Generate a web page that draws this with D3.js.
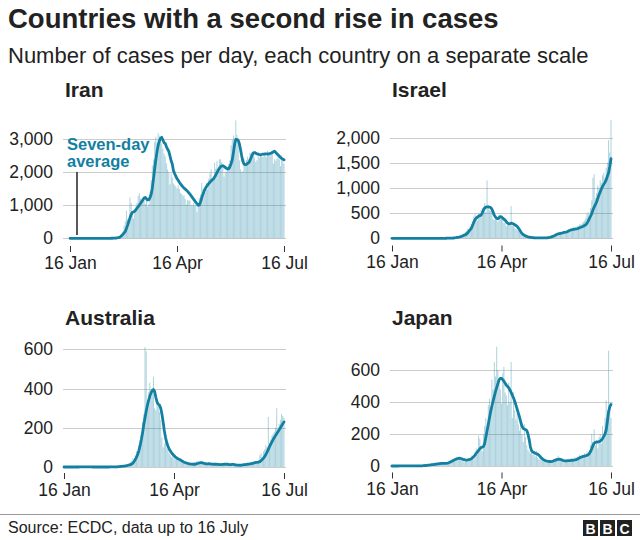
<!DOCTYPE html>
<html><head><meta charset="utf-8">
<script src="https://cdn.jsdelivr.net/npm/d3@7"></script>
<style>
body{margin:0;background:#fff;}
svg text{font-family:"Liberation Sans",Arial,Helvetica,sans-serif;}
</style></head><body>
<svg id="chart" width="640" height="540"></svg>
<script>
// ---------- DATA ----------
const START_DATE = "2020-01-16";
const TICK_DATES = ["2020-01-16", "2020-04-16", "2020-07-16"];
const COUNTRIES = ["Iran", "Israel", "Australia", "Japan"];

const IRAN_TICKS = [0, 1000, 2000, 3000];
const ISRAEL_TICKS = [0, 500, 1000, 1500, 2000];
const AUSTRALIA_TICKS = [0, 200, 400, 600];
const JAPAN_TICKS = [0, 200, 400, 600];

// daily cases, one value per day from 16 Jan to 16 Jul
const IRAN_DAILY = [
0,0,0,0,0,0,0,0,0,0,
0,0,0,0,0,0,0,0,0,0,
0,0,0,0,0,0,0,0,0,0,
0,0,0,0,2,3,13,5,10,15,
18,34,45,106,143,205,385,523,835,586,
591,1234,1076,743,595,881,958,1075,1289,1365,
1209,1053,1178,1192,1046,1237,966,1028,1411,1762,
2206,2389,2926,3076,2901,3186,3110,2988,2875,2715,
2560,2483,2274,2089,1997,1634,1972,1837,1657,1617,
1574,1512,1606,1499,1374,1343,1294,1297,1194,1030,
1168,1134,1153,1006,991,1073,993,1006,802,976,
1223,1323,1680,1485,1529,1383,1683,1481,1808,1958,
2102,1806,1757,2294,2111,2346,2080,2392,2392,2311,
2180,1869,2023,2012,2150,2250,2364,2819,2979,3117,
2994,3574,3134,2886,2364,2095,2011,2043,2410,2238,
2369,2472,2410,2596,2563,2615,2612,2449,2322,2368,
2595,2445,2531,2489,2456,2560,2549,2457,2652,2549,
2613,2560,2637,2262,2397,2349,2414,2500,2388,2186,
2521,2379,2262];
const IRAN_AVG = [
0,0,0,0,0,0,0,0,0,0,
0,0,0,0,0,0,0,0,0,0,
0,0,0,0,0,0,0,0,0,0,
0,0,0,0,0,1,2,4,6,9,
13,18,28,50,80,120,160,210,300,400,
510,620,720,780,800,820,860,910,960,1010,
1060,1110,1170,1220,1240,1200,1160,1170,1230,1330,
1520,1800,2100,2380,2620,2820,2950,3030,3060,2980,
2900,2870,2780,2700,2640,2500,2350,2250,2050,1960,
1880,1810,1760,1700,1650,1600,1560,1520,1490,1460,
1420,1380,1340,1290,1240,1190,1140,1090,1050,1000,
1010,1100,1220,1330,1420,1500,1560,1610,1660,1700,
1740,1770,1800,1860,1920,1990,2060,2120,2170,2190,
2200,2180,2150,2120,2100,2110,2170,2260,2380,2600,
2850,3000,3000,2970,2870,2700,2500,2330,2250,2230,
2240,2270,2290,2350,2440,2530,2590,2600,2580,2560,
2550,2540,2530,2540,2550,2550,2560,2560,2550,2560,
2570,2580,2600,2620,2640,2600,2560,2530,2490,2450,
2420,2400,2380];

const ISRAEL_DAILY = [
0,0,0,0,0,0,0,0,0,0,
0,0,0,0,0,0,0,0,0,0,
0,0,0,0,0,0,0,0,0,0,
0,0,0,0,0,0,1,0,0,0,
0,1,0,2,1,2,3,2,4,5,
9,11,15,22,30,38,45,60,70,95,
110,130,150,190,180,240,290,330,430,480,
390,350,500,420,560,600,620,700,520,1150,
650,560,540,620,380,360,400,430,330,470,
420,390,380,300,330,240,260,310,290,640,
250,270,200,190,170,150,120,90,70,60,
55,40,35,28,24,20,16,18,14,12,
10,15,8,12,5,10,14,6,17,20,
30,40,55,60,80,75,90,110,100,95,
120,115,110,140,130,160,150,140,170,200,
180,230,210,190,250,240,280,270,300,330,
350,400,480,520,450,600,750,1200,1270,800,
900,1050,1000,1150,1100,1250,1300,1200,1400,1500,
1950,1700,2350];
const ISRAEL_AVG = [
0,0,0,0,0,0,0,0,0,0,
0,0,0,0,0,0,0,0,0,0,
0,0,0,0,0,0,0,0,0,0,
0,0,0,0,0,0,0,0,0,0,
0,0,0,0,0,1,2,2,3,3,
4,6,9,12,16,20,26,33,40,50,
60,70,85,110,140,170,200,260,320,370,
400,420,440,450,460,500,560,600,620,625,
625,620,610,580,520,460,420,395,390,410,
430,425,400,380,360,330,300,285,290,300,
295,285,270,255,235,205,170,130,95,75,
60,48,38,30,25,20,16,13,11,10,
9,8,8,7,7,7,7,8,9,11,
14,18,24,32,42,52,64,78,86,92,
98,104,110,116,120,125,135,148,160,168,
172,176,180,185,192,200,210,220,230,240,
255,270,295,340,390,440,490,560,620,670,
720,790,860,920,980,1030,1070,1110,1160,1230,
1300,1430,1580];

const AUSTRALIA_DAILY = [
0,0,0,0,0,0,0,0,0,0,
1,2,0,1,0,1,0,3,0,0,
1,0,0,0,0,0,0,0,0,0,
0,0,0,0,1,0,0,0,2,0,
1,0,2,0,3,2,4,5,6,8,
10,12,14,10,20,25,30,45,40,60,
80,75,110,140,170,230,270,611,590,320,
380,430,360,400,460,300,290,330,310,280,
240,150,100,120,140,95,90,70,60,50,
65,45,40,55,35,30,38,25,20,28,
18,16,22,15,12,20,14,10,25,18,
30,16,22,26,18,14,20,12,16,22,
10,18,14,12,16,10,14,12,18,8,
12,15,10,20,14,11,13,9,15,12,
10,14,8,12,9,7,11,10,14,16,
12,18,20,16,22,25,19,28,20,30,
24,35,60,70,50,80,90,110,100,255,
120,140,160,170,180,200,300,190,220,240,
270,260,250];
const AUSTRALIA_AVG = [
0,0,0,0,0,0,0,0,0,0,
0,0,0,1,1,1,1,1,1,1,
1,1,1,1,0,0,0,0,0,0,
0,0,0,0,0,0,0,0,1,1,
1,1,1,1,1,2,2,3,3,4,
5,6,7,9,10,12,15,20,28,38,
50,65,85,110,140,175,215,250,285,315,
340,360,378,390,395,385,355,330,320,315,
300,270,230,185,150,125,105,92,82,72,
65,58,52,47,43,40,37,33,29,26,
23,21,19,17,16,15,15,14,14,15,
17,19,21,22,22,20,18,17,16,16,
17,16,15,15,14,14,14,13,13,12,
12,13,13,14,14,14,13,12,12,13,
13,12,11,10,10,9,9,10,11,12,
12,13,14,15,16,17,18,20,22,23,
24,25,27,32,38,45,53,64,76,90,
104,116,128,140,150,160,170,180,190,200,
210,220,230];

const JAPAN_DAILY = [
0,0,0,0,0,0,0,0,1,0,
1,0,3,2,0,1,4,2,1,0,
0,1,0,1,2,3,2,5,3,8,
4,10,12,9,15,6,14,20,12,16,
8,22,17,15,20,14,18,26,33,20,
35,45,30,52,58,40,62,36,44,38,
25,45,30,40,52,36,65,58,40,90,
110,70,190,170,120,90,200,250,300,230,
380,420,350,540,480,650,560,745,600,520,
480,390,580,620,460,440,380,520,400,650,
300,460,350,290,330,260,220,280,200,150,
260,180,130,100,90,80,110,70,85,60,
95,50,40,70,45,30,25,40,20,35,
28,22,38,30,45,26,50,40,65,35,
30,48,25,38,28,40,32,45,27,50,
35,40,55,30,60,45,70,50,65,55,
80,60,90,75,100,130,200,150,230,130,
160,110,180,200,140,250,190,300,410,280,
720,380,300];
const JAPAN_AVG = [
0,0,0,0,0,0,1,1,1,1,
1,1,1,1,1,1,1,1,1,1,
1,1,1,1,1,1,2,3,3,4,
5,6,7,8,9,10,11,12,13,14,
15,16,17,17,17,17,18,20,23,27,
31,35,39,42,45,47,48,47,45,42,
40,38,37,38,40,42,45,52,60,68,
78,88,98,108,115,118,122,140,180,220,
260,300,340,375,405,435,465,490,515,538,
548,548,540,530,518,505,498,488,475,460,
442,425,405,380,355,330,305,275,250,235,
230,228,222,200,165,120,95,88,84,80,
77,74,68,60,52,45,38,35,32,30,
29,28,28,29,31,34,37,40,42,43,
41,38,35,33,32,32,33,34,34,35,
36,37,38,40,43,47,51,55,58,60,
62,64,66,70,78,90,108,128,142,148,
150,150,152,155,162,172,185,200,225,280,
340,370,385];

const TITLE = "Countries with a second rise in cases";
const SUBTITLE = "Number of cases per day, each country on a separate scale";
const SOURCE = "Source: ECDC, data up to 16 July";
const ANNOTATION = ["Seven-day", "average"];

// ---------- LAYOUT ----------
const TEAL = "#1380A1";
const TEXT = "#222222";
const FONT_AXIS = 17.5;

const parse = d3.timeParse("%Y-%m-%d");
const start = parse(START_DATE);
const tickDates = TICK_DATES.map(parse);

const panels = [
  {name: COUNTRIES[0], daily: IRAN_DAILY, avg: IRAN_AVG, ticks: IRAN_TICKS,
   x0: 70, x1: 284, y0: 238.3, yTop: 139.3, labelRight: 53, titleX: 65, titleY: 97, axisY: 246},
  {name: COUNTRIES[1], daily: ISRAEL_DAILY, avg: ISRAEL_AVG, ticks: ISRAEL_TICKS,
   x0: 392, x1: 611, y0: 238.3, yTop: 137.5, labelRight: 380, titleX: 392, titleY: 97, axisY: 245.5},
  {name: COUNTRIES[2], daily: AUSTRALIA_DAILY, avg: AUSTRALIA_AVG, ticks: AUSTRALIA_TICKS,
   x0: 64, x1: 284, y0: 467, yTop: 349.3, labelRight: 53, titleX: 65, titleY: 325, axisY: 473},
  {name: COUNTRIES[3], daily: JAPAN_DAILY, avg: JAPAN_AVG, ticks: JAPAN_TICKS,
   x0: 392, x1: 611, y0: 466, yTop: 370, labelRight: 380, titleX: 392, titleY: 325, axisY: 472.5}
];

const svg = d3.select("#chart");
svg.append("rect").attr("width", 640).attr("height", 540).attr("fill", "#fff");

svg.append("text").attr("x", 8).attr("y", 28)
  .attr("font-size", 27.5).attr("font-weight", "bold").attr("fill", TEXT).text(TITLE);
svg.append("text").attr("x", 8).attr("y", 63)
  .attr("font-size", 22).attr("fill", TEXT).text(SUBTITLE);

panels.forEach((p, pi) => {
  const g = svg.append("g");
  const nDays = p.daily.length;
  const dates = d3.range(nDays).map(i => d3.timeDay.offset(start, i));
  const x = d3.scaleTime().domain([tickDates[0], tickDates[2]]).range([p.x0, p.x1]);
  const yMax = d3.max(p.ticks);
  const y = d3.scaleLinear().domain([0, yMax]).range([p.y0, p.yTop]);

  // panel title
  g.append("text").attr("x", p.titleX).attr("y", p.titleY)
    .attr("font-size", 21).attr("font-weight", "bold").attr("fill", TEXT).text(p.name);

  // gridlines
  g.append("g").selectAll("line").data(p.ticks).join("line")
    .attr("x1", p.labelRight + 10).attr("x2", p.x1 + 2)
    .attr("y1", d => Math.round(y(d)) + 0.5).attr("y2", d => Math.round(y(d)) + 0.5)
    .attr("stroke", "#cccccc").attr("stroke-width", 1);

  // y labels
  const ya = g.append("g").attr("transform", `translate(${p.labelRight},0)`)
    .call(d3.axisLeft(y).tickValues(p.ticks).tickFormat(d3.format(",")).tickSize(0).tickPadding(0));
  ya.select(".domain").remove();
  ya.selectAll("text").attr("font-size", FONT_AXIS).attr("fill", TEXT)
    .attr("font-family", '"Liberation Sans",Arial,Helvetica,sans-serif');

  // bars
  const step = (p.x1 - p.x0) / 182;
  const bw = step * 0.8;
  g.append("g").selectAll("rect").data(p.daily).join("rect")
    .attr("x", (d, i) => x(dates[i]) - bw / 2)
    .attr("y", d => y(d))
    .attr("width", bw)
    .attr("height", d => p.y0 - y(d))
    .attr("fill", TEAL).attr("fill-opacity", 0.36);

  // seven-day average line
  const line = d3.line().x((d, i) => x(dates[i])).y(d => y(d)).curve(d3.curveLinear);
  g.append("path").datum(p.avg).attr("d", line)
    .attr("fill", "none").attr("stroke", TEAL).attr("stroke-width", 2.8)
    .attr("stroke-linejoin", "round").attr("stroke-linecap", "round");

  // x axis
  const xa = g.append("g").attr("transform", `translate(0,${p.axisY})`)
    .call(d3.axisBottom(x).tickValues(tickDates).tickFormat(d3.timeFormat("%-d %b"))
      .tickSize(6).tickPadding(4.5));
  xa.select(".domain").remove();
  xa.selectAll("line").attr("stroke", "#333");
  xa.selectAll("text").attr("font-size", FONT_AXIS).attr("fill", TEXT)
    .attr("font-family", '"Liberation Sans",Arial,Helvetica,sans-serif');

  if (pi === 0) {
    g.append("line").attr("x1", 77).attr("x2", 77).attr("y1", 172).attr("y2", 235)
      .attr("stroke", "#222").attr("stroke-width", 1.5);
    g.append("text").attr("x", 67).attr("y", 149.5).attr("font-size", 16.5)
      .attr("font-weight", "bold").attr("fill", TEAL).text(ANNOTATION[0]);
    g.append("text").attr("x", 67).attr("y", 167).attr("font-size", 16.5)
      .attr("font-weight", "bold").attr("fill", TEAL).text(ANNOTATION[1]);
  }
});

// footer
svg.append("line").attr("x1", 0).attr("x2", 640).attr("y1", 514.5).attr("y2", 514.5)
  .attr("stroke", "#999").attr("stroke-width", 1);
svg.append("text").attr("x", 8).attr("y", 533).attr("font-size", 16).attr("fill", TEXT).text(SOURCE);
const bbc = svg.append("g");
["B", "B", "C"].forEach((c, i) => {
  const bx = 583 + i * 17;
  bbc.append("rect").attr("x", bx).attr("y", 520).attr("width", 15).attr("height", 16).attr("fill", "#222");
  bbc.append("text").attr("x", bx + 7.5).attr("y", 533.5).attr("text-anchor", "middle")
    .attr("font-size", 14).attr("font-weight", "bold").attr("fill", "#fff").text(c);
});
</script>
</body></html>
